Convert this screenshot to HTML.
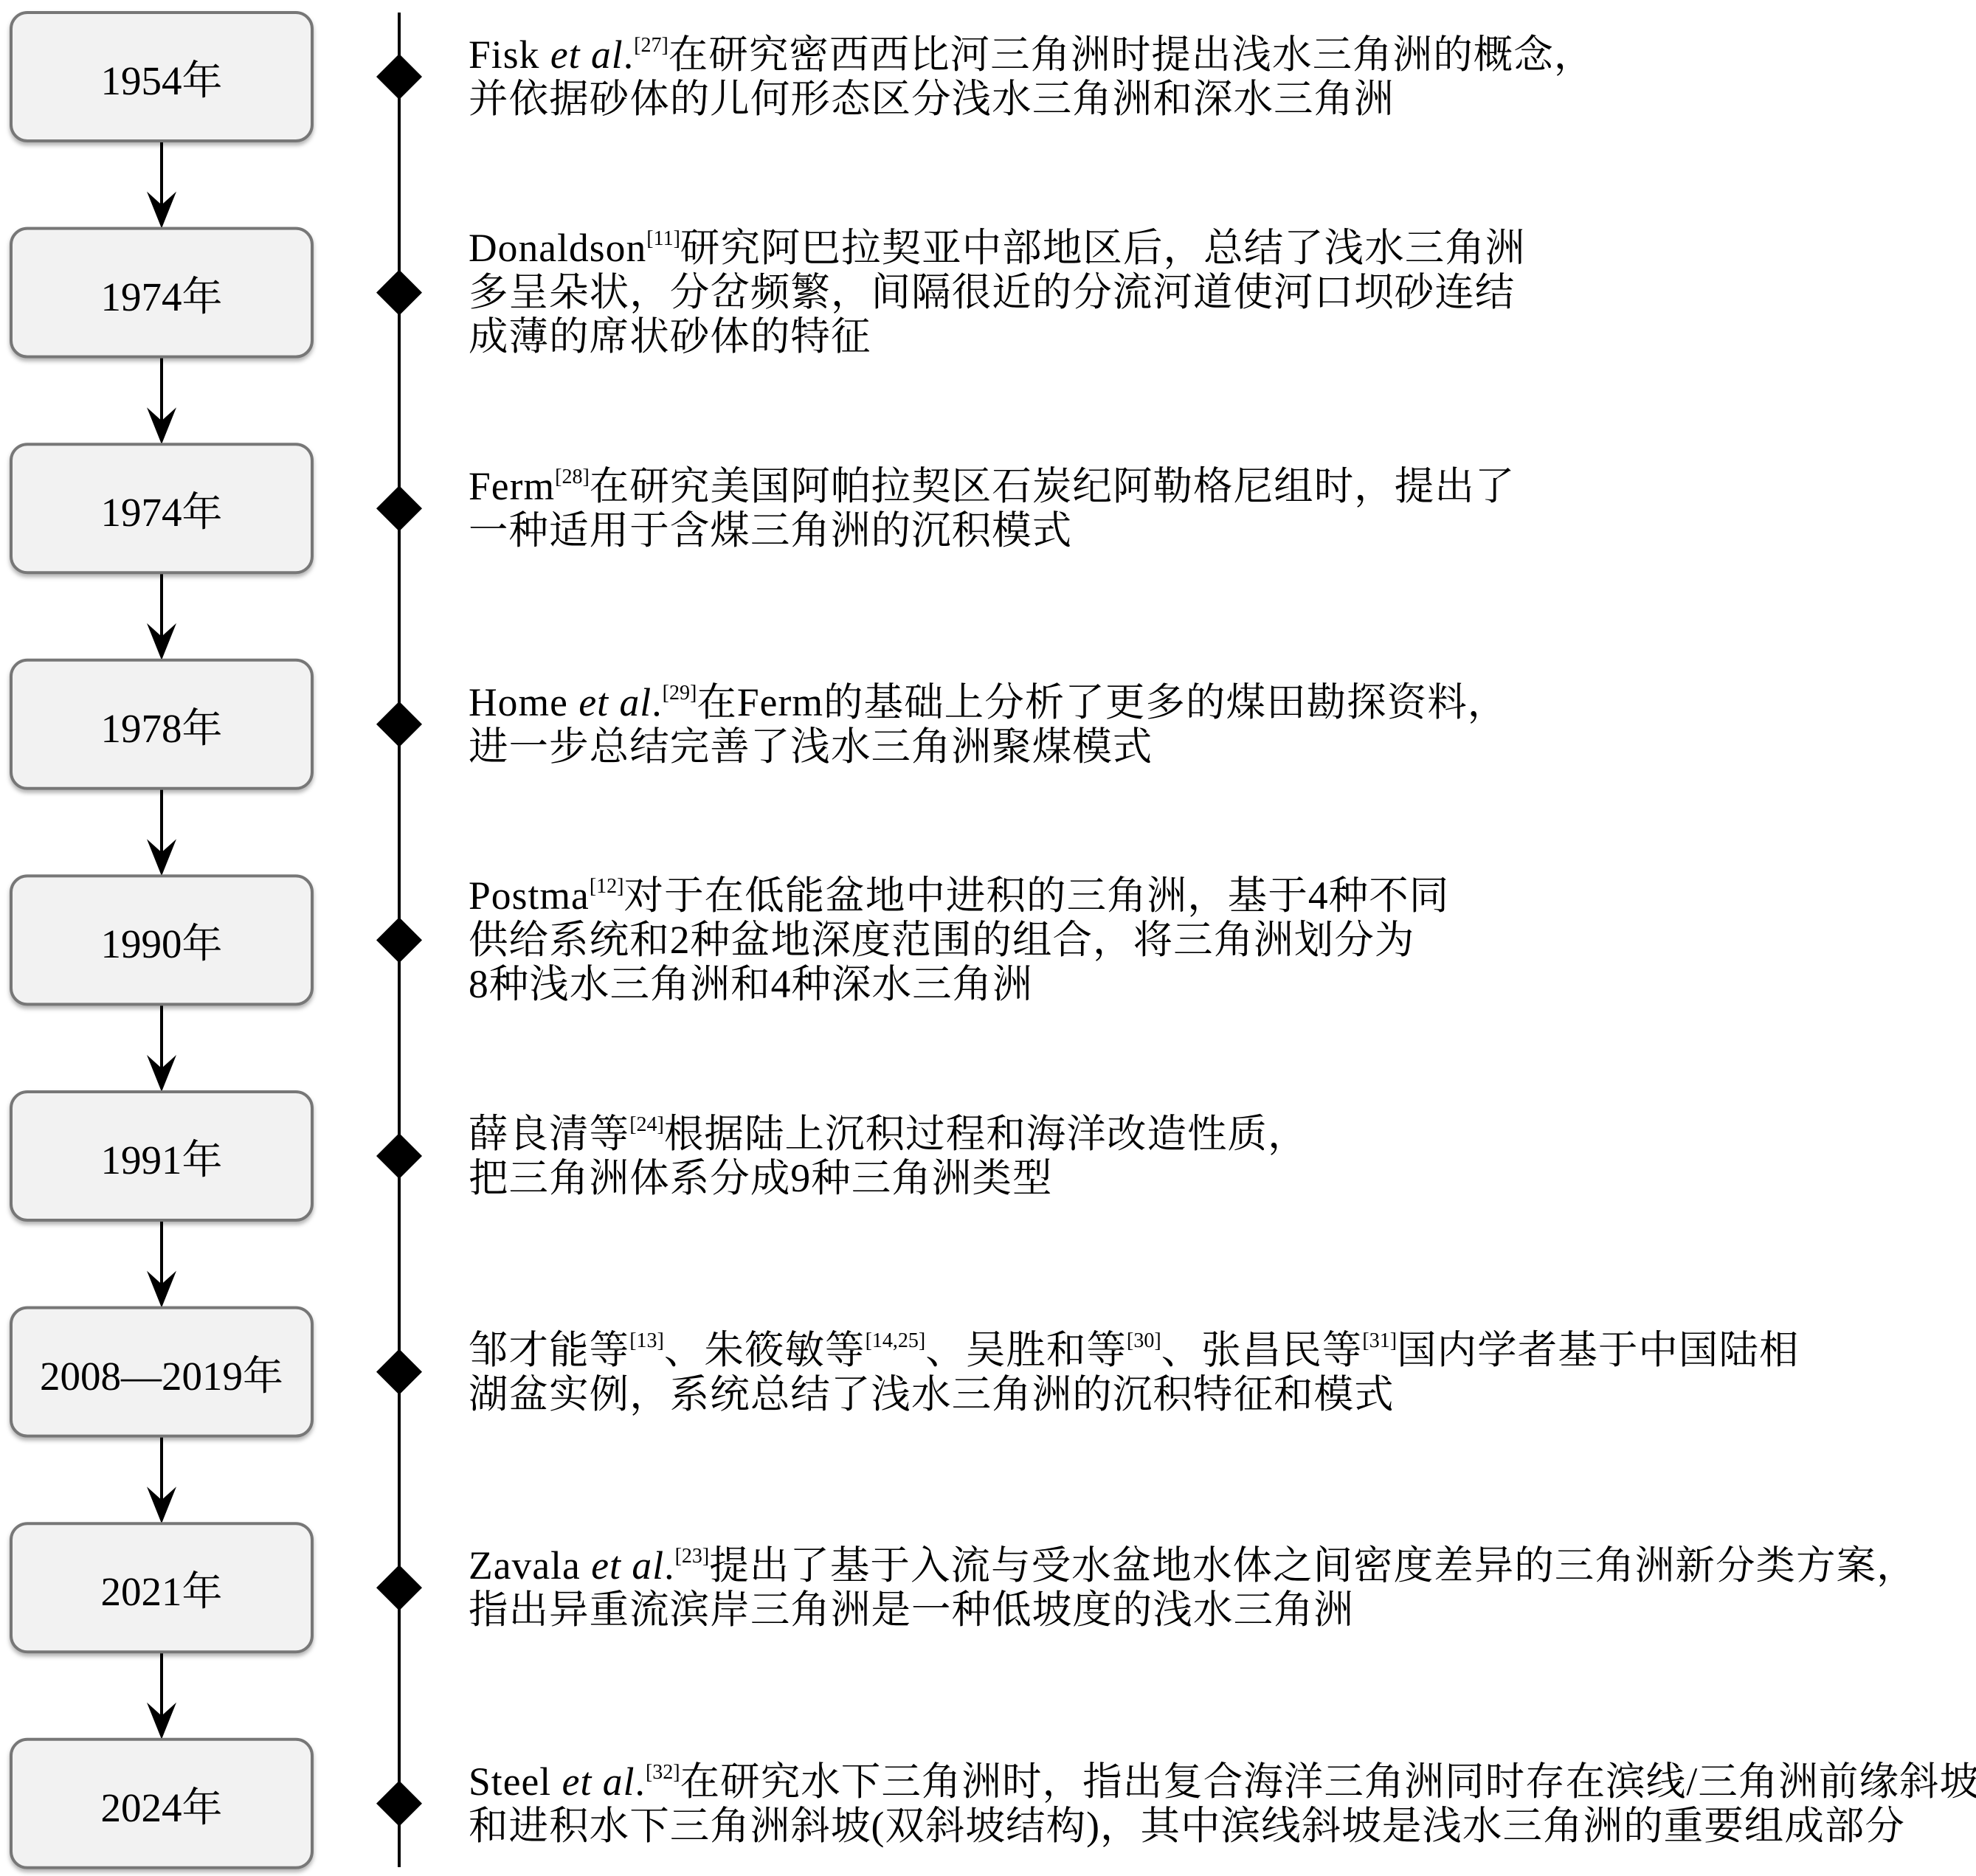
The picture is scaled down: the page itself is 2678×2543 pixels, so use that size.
<!DOCTYPE html>
<html><head><meta charset="utf-8"><style>
html,body{margin:0;padding:0;background:#fff}
body{width:2678px;height:2543px;position:relative;overflow:hidden;font-family:"Liberation Serif","Noto Serif CJK SC",serif;color:#000}
.lab{position:absolute;left:14px;width:410px;height:174px;display:flex;align-items:center;justify-content:center;font-size:55px}
.t{position:absolute;left:635px;font-size:53.5px;line-height:60px;white-space:nowrap;letter-spacing:1.05px}
sup{font-size:28px;vertical-align:0;position:relative;top:-22px;line-height:0;letter-spacing:0}
</style></head><body>
<svg width="2678" height="2543" style="position:absolute;left:0;top:0">
<defs>
<filter id="sh" x="-5%" y="-5%" width="110%" height="115%"><feDropShadow dx="0" dy="4" stdDeviation="3" flood-color="#000" flood-opacity="0.3"/></filter>
</defs>
<line x1="541" y1="17" x2="541" y2="2531" stroke="#000" stroke-width="4"/>
<g id="g"></g>
</svg>
<script>
var g=document.getElementById('g'),s='';
for(var i=0;i<9;i++){var y=17+i*292.6,c=y+87;
s+='<rect x="15" y="'+y+'" width="408" height="174" rx="22" fill="#f2f2f2" stroke="#777" stroke-width="4" filter="url(#sh)"/>';
s+='<polygon points="541,'+(c-31)+' 572,'+c+' 541,'+(c+31)+' 510,'+c+'" fill="#000"/>';
if(i<8){var b=y+176,n=y+292.6;
s+='<line x1="219" y1="'+b+'" x2="219" y2="'+(n-10)+'" stroke="#000" stroke-width="4"/>';
s+='<polygon points="219,'+n+' 199,'+(n-50)+' 219,'+(n-32)+' 239,'+(n-50)+'" fill="#000"/>';}
}
g.innerHTML=s;
</script>
<div class="lab" style="top:17px">1954年</div>
<div class="lab" style="top:310px">1974年</div>
<div class="lab" style="top:602px">1974年</div>
<div class="lab" style="top:895px">1978年</div>
<div class="lab" style="top:1187px">1990年</div>
<div class="lab" style="top:1480px">1991年</div>
<div class="lab" style="top:1773px">2008—2019年</div>
<div class="lab" style="top:2065px">2021年</div>
<div class="lab" style="top:2358px">2024年</div>

<div class="t" style="top:44px">Fisk <i>et al</i>.<sup>[27]</sup>在研究密西西比河三角洲时提出浅水三角洲的概念，<br>并依据砂体的儿何形态区分浅水三角洲和深水三角洲</div>
<div class="t" style="top:306px">Donaldson<sup>[11]</sup>研究阿巴拉契亚中部地区后，总结了浅水三角洲<br>多呈朵状，分岔频繁，间隔很近的分流河道使河口坝砂连结<br>成薄的席状砂体的特征</div>
<div class="t" style="top:629px">Ferm<sup>[28]</sup>在研究美国阿帕拉契区石炭纪阿勒格尼组时，提出了<br>一种适用于含煤三角洲的沉积模式</div>
<div class="t" style="top:922px">Home <i>et al</i>.<sup>[29]</sup>在Ferm的基础上分析了更多的煤田勘探资料，<br>进一步总结完善了浅水三角洲聚煤模式</div>
<div class="t" style="top:1184px">Postma<sup>[12]</sup>对于在低能盆地中进积的三角洲，基于4种不同<br>供给系统和2种盆地深度范围的组合，将三角洲划分为<br>8种浅水三角洲和4种深水三角洲</div>
<div class="t" style="top:1507px">薛良清等<sup>[24]</sup>根据陆上沉积过程和海洋改造性质，<br>把三角洲体系分成9种三角洲类型</div>
<div class="t" style="top:1800px">邹才能等<sup>[13]</sup>、朱筱敏等<sup>[14,25]</sup>、吴胜和等<sup>[30]</sup>、张昌民等<sup>[31]</sup>国内学者基于中国陆相<br>湖盆实例，系统总结了浅水三角洲的沉积特征和模式</div>
<div class="t" style="top:2092px">Zavala <i>et al</i>.<sup>[23]</sup>提出了基于入流与受水盆地水体之间密度差异的三角洲新分类方案，<br>指出异重流滨岸三角洲是一种低坡度的浅水三角洲</div>
<div class="t" style="top:2385px">Steel <i>et al</i>.<sup>[32]</sup>在研究水下三角洲时，指出复合海洋三角洲同时存在滨线/三角洲前缘斜坡<br>和进积水下三角洲斜坡(双斜坡结构)，其中滨线斜坡是浅水三角洲的重要组成部分</div>
</body></html>
